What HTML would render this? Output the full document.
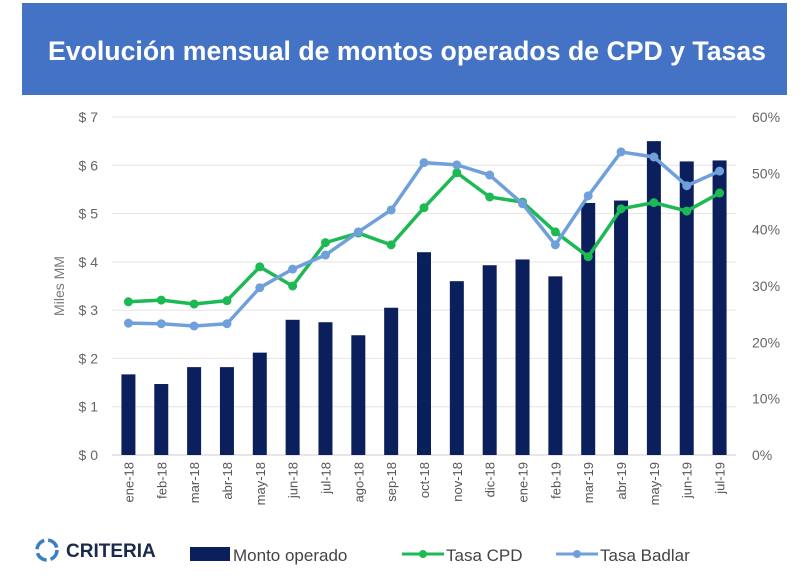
<!DOCTYPE html>
<html><head><meta charset="utf-8"><style>
body{margin:0;background:#fff;width:800px;height:580px;overflow:hidden;font-family:"Liberation Sans",sans-serif}
</style></head><body>
<svg width="800" height="580" xmlns="http://www.w3.org/2000/svg">
<rect x="22" y="3" width="765" height="92" fill="#4472C4"/>
<text x="48" y="60" textLength="718" lengthAdjust="spacingAndGlyphs" fill="#fff" font-size="27" font-weight="bold" font-family="Liberation Sans, sans-serif">Evolución mensual de montos operados de CPD y Tasas</text>
<g id="grid"></g><g id="bars"></g><g id="lines"></g><g id="axes"></g>
<text transform="translate(64,286) rotate(-90)" text-anchor="middle" font-size="14" fill="#777">Miles MM</text>
<g>
<circle cx="47" cy="550" r="10" fill="none" stroke="#3a7fc0" stroke-width="3.5" stroke-dasharray="12 4"/>
<text x="66" y="557" font-size="19" font-weight="bold" fill="#1a2a4a">CRITERIA</text>
</g>
<g>
<rect x="190" y="547" width="40" height="14" fill="#0B1F5C"/>
<text x="233" y="561" font-size="17" fill="#444">Monto operado</text>
<line x1="402" y1="554" x2="444" y2="554" stroke="#1DB954" stroke-width="3"/>
<circle cx="423" cy="554" r="4" fill="#1DB954"/>
<text x="446" y="561" font-size="17" fill="#444">Tasa CPD</text>
<line x1="556" y1="554" x2="598" y2="554" stroke="#6FA0DC" stroke-width="3"/>
<circle cx="577" cy="554" r="4" fill="#6FA0DC"/>
<text x="600" y="561" font-size="17" fill="#444">Tasa Badlar</text>
</g>
</svg>
<script>
const categories=["ene-18","feb-18","mar-18","abr-18","may-18","jun-18","jul-18","ago-18","sep-18","oct-18","nov-18","dic-18","ene-19","feb-19","mar-19","abr-19","may-19","jun-19","jul-19"];
const monto=[1.67,1.47,1.82,1.82,2.12,2.8,2.75,2.48,3.05,4.2,3.6,3.93,4.05,3.7,5.22,5.27,6.5,6.08,6.1];
const tasaCPD=[27.2,27.5,26.8,27.4,33.4,30,37.7,39.4,37.3,43.9,50.1,45.8,44.9,39.6,35.2,43.7,44.8,43.3,46.5];
const tasaBadlar=[23.4,23.3,22.9,23.3,29.7,33,35.5,39.6,43.5,51.9,51.5,49.7,44.6,37.3,46,53.8,52.9,47.8,50.4];
const leftTicks=["$ 0","$ 1","$ 2","$ 3","$ 4","$ 5","$ 6","$ 7"];
const rightTicks=["0%","10%","20%","30%","40%","50%","60%"];
const NS="http://www.w3.org/2000/svg";
const y0=455,yTop=117,xL=112,xR=736;
const yL=v=>y0-(v/7)*(y0-yTop);
const yR=v=>y0-(v/60)*(y0-yTop);
const step=(xR-xL)/categories.length;
const xC=i=>xL+step*(i+0.5);
function mk(t,a,p){const e=document.createElementNS(NS,t);for(const k in a)e.setAttribute(k,a[k]);p.appendChild(e);return e;}
const G=document.getElementById('grid'),B=document.getElementById('bars'),L=document.getElementById('lines'),A=document.getElementById('axes');
leftTicks.forEach((t,i)=>{
 const gl=mk('line',{x1:xL,x2:xR,y1:yL(i),y2:yL(i),stroke:i==0?'#ccc':'#e4e4e4','stroke-width':1},G);
 
 
 const tx=mk('text',{x:98,y:yL(i)+5,'text-anchor':'end','font-size':14,fill:'#666'},A);tx.textContent=t;
 
 
});
rightTicks.forEach((t,i)=>{
 const tx=mk('text',{x:752,y:yR(i*10)+5,'font-size':14,fill:'#666'},A);tx.textContent=t;
 
 
});
categories.forEach((c,i)=>{
 const tx=mk('text',{transform:`translate(${xC(i)+5},462) rotate(-90)`,'text-anchor':'end','font-size':13,fill:'#555'},A);tx.textContent=c;
 
 
 const b=mk('rect',{x:xC(i)-7,y:yL(monto[i]),width:14,height:y0-yL(monto[i]),fill:'#0B1F5C'},B);
 
 
});
function series(vals,color,name){
 const p=mk('polyline',{points:vals.map((v,i)=>xC(i)+','+yR(v)).join(' '),fill:'none',stroke:color,'stroke-width':3.5,'stroke-linejoin':'round'},L);
 
 
 vals.forEach((v,i)=>{const c=mk('circle',{cx:xC(i),cy:yR(v),r:4.5,fill:color},L);
 
 });
}
series(tasaCPD,'#1DB954','tasa-cpd');
series(tasaBadlar,'#6FA0DC','tasa-badlar');
</script>
</body></html>
